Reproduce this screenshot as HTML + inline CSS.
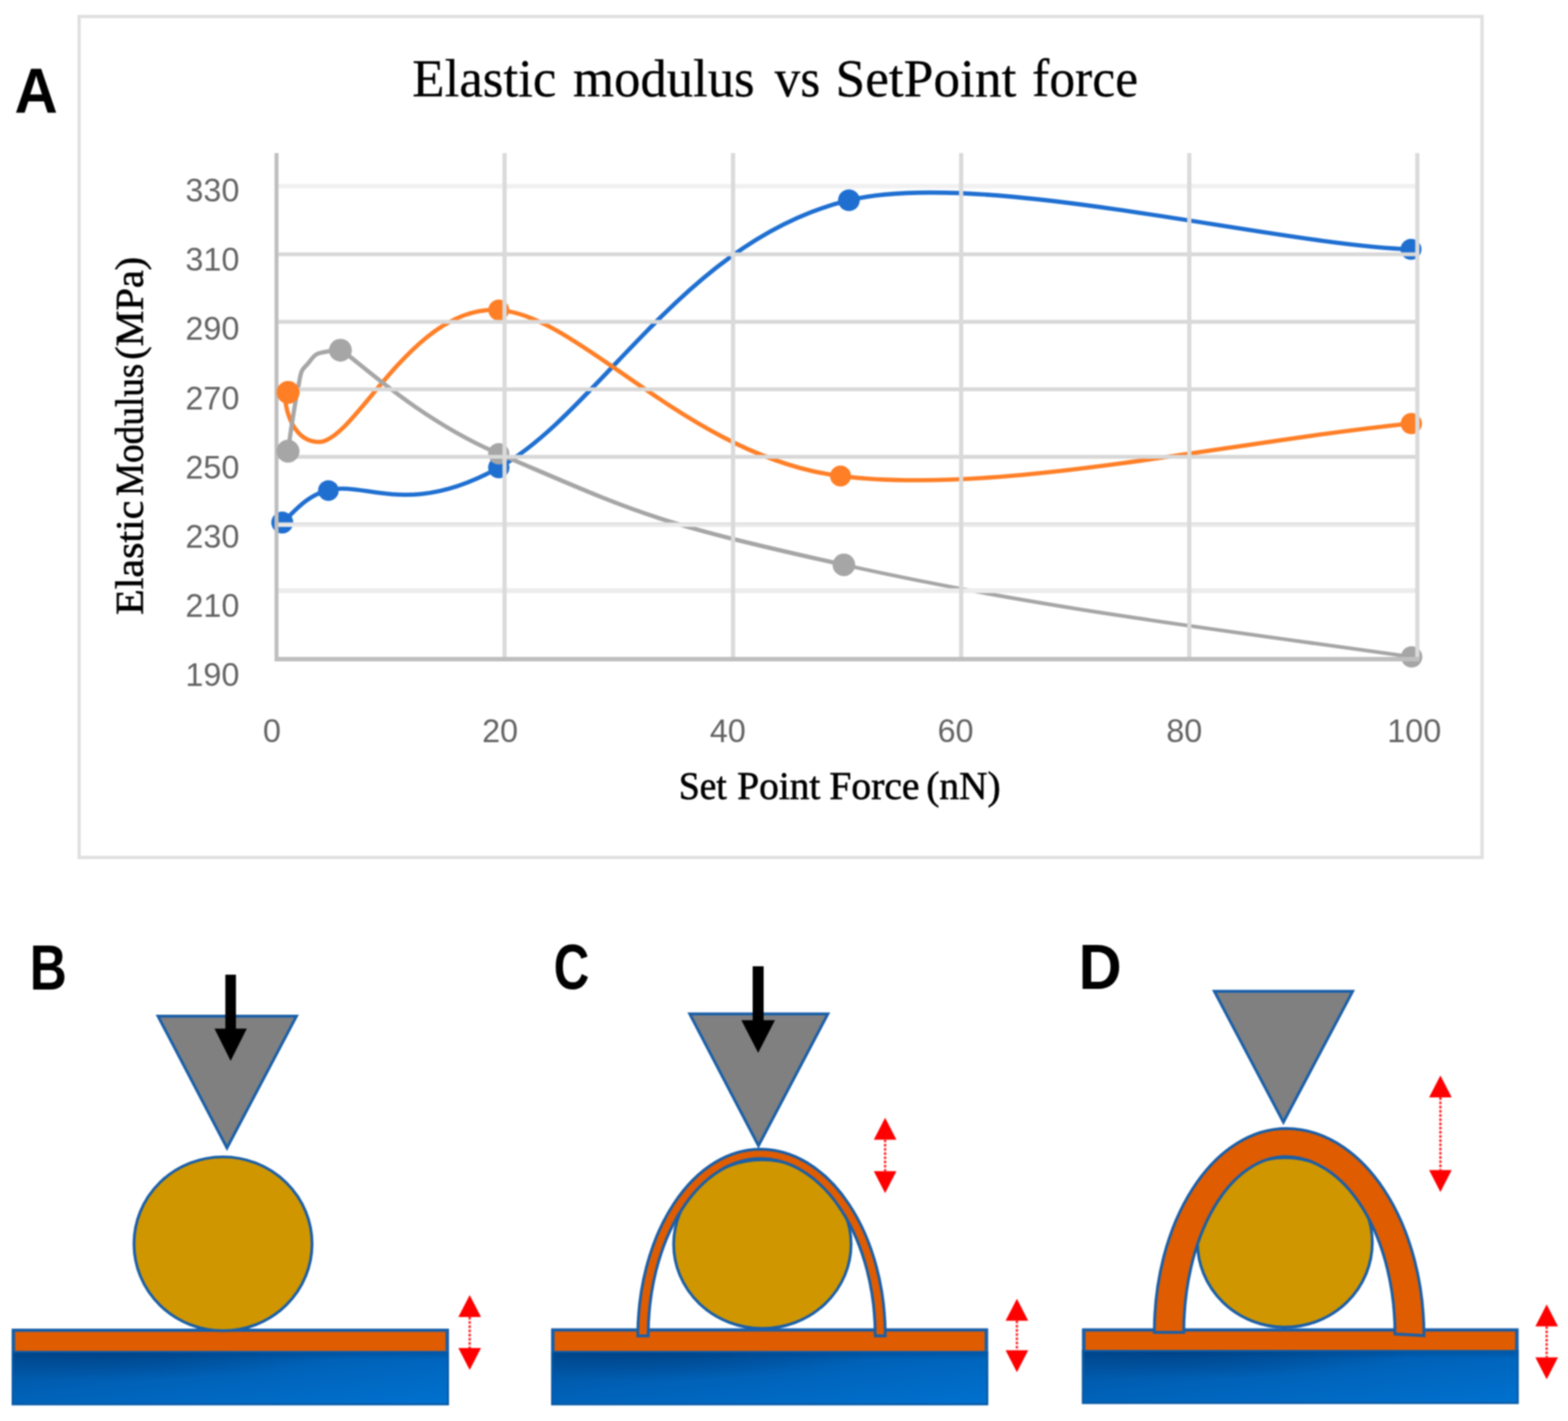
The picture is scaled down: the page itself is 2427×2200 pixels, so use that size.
<!DOCTYPE html>
<html lang="en"><head><meta charset="utf-8"><title>Elastic modulus vs SetPoint force</title>
<style>
html,body{margin:0;padding:0;background:#fff;}
body{width:2427px;height:2200px;overflow:hidden;}
svg{display:block;}
.sans{font-family:"Liberation Sans",sans-serif;}
.serif{font-family:"Liberation Serif",serif;}
.lbl{font-family:"Liberation Sans",sans-serif;font-weight:bold;font-size:98.5px;fill:#000;}
.tick{font-family:"Liberation Sans",sans-serif;font-size:50px;fill:#646464;}
</style></head><body>
<svg width="2427" height="2200" viewBox="0 0 2427 2200">
<defs>
<linearGradient id="sub" gradientUnits="objectBoundingBox" x1="0" y1="0" x2="1" y2="1"><stop offset="0" stop-color="#00509c"/><stop offset="0.45" stop-color="#0062b8"/><stop offset="1" stop-color="#0072d0"/></linearGradient>
<linearGradient id="subtop" x1="0" y1="0" x2="0" y2="1"><stop offset="0" stop-color="#003f7f" stop-opacity="0.45"/><stop offset="1" stop-color="#003f7f" stop-opacity="0"/></linearGradient>
<radialGradient id="subdark" cx="0.22" cy="0" r="0.55"><stop offset="0" stop-color="#003a78" stop-opacity="0.6"/><stop offset="1" stop-color="#003a78" stop-opacity="0"/></radialGradient>
<filter id="soft" x="0" y="0" width="100%" height="100%" filterUnits="userSpaceOnUse" color-interpolation-filters="sRGB"><feGaussianBlur stdDeviation="1.1"/></filter>
</defs>
<rect width="2427" height="2200" fill="#fff"/>
<g filter="url(#soft)">
<rect width="2427" height="2200" fill="#fff"/>
<!-- chart frame -->
<rect x="122.5" y="25.5" width="2171.5" height="1302" fill="#fff" stroke="#dfdfdf" stroke-width="5"/>
<!-- series -->
<path d="M437.5 809 C456.8 790.7 474.1 767.6 508 759 C565.9 744.3 631.5 802.2 772 724 C928.3 636.9 1060.6 370.7 1314 310 C1520.6 260.5 1973.4 379.5 2184 386" fill="none" stroke="#1f6fd1" stroke-width="6.6" stroke-linecap="round" stroke-linejoin="round"/>
<path d="M446 607.5 C436 590 439 684.2 493.5 684.2 C550 684.2 637.1 471.2 772 480 C899.2 488.3 1065 707.6 1301 737 C1546.9 767.6 1895.2 684.5 2184.5 655.8" fill="none" stroke="#ff7f27" stroke-width="6.6" stroke-linecap="round" stroke-linejoin="round"/>
<path d="M445.7 699.5 C446.4 694.2 448.4 679.5 450.1 667.8 C451.8 656.1 454.1 641.4 456.1 629.5 C458.1 617.6 460.3 605.7 462.1 596.6 C463.9 587.5 464.6 580.4 467.1 574.7 C469.6 569.1 473.1 567.1 476.9 562.7 C480.7 558.3 484.4 551.7 490.0 548.5 C495.6 545.3 504.7 544.6 510.8 543.5 C516.9 542.4 524.1 542.2 526.7 541.9 C537.6 543.1 639.1 645.9 772 702.5 C986.6 793.9 1002.9 807 1306.2 874.5" fill="none" stroke="#a6a6a6" stroke-width="6.6" stroke-linecap="round" stroke-linejoin="round"/>
<path d="M1306.2 874.5 C1608.3 941.7 1870.5 972.4 2185 1017" fill="none" stroke="#a6a6a6" stroke-width="5.8" stroke-linecap="round"/>
<circle cx="436.9" cy="809.1" r="17" fill="#1f6fd1"/>
<circle cx="508.3" cy="759.4" r="16" fill="#1f6fd1"/>
<circle cx="772.0" cy="724.0" r="16.5" fill="#1f6fd1"/>
<circle cx="1314.0" cy="310.0" r="16.8" fill="#1f6fd1"/>
<circle cx="2184.0" cy="386.0" r="16.2" fill="#1f6fd1"/>
<circle cx="772.0" cy="480.0" r="16.2" fill="#ff7f27"/>
<circle cx="1301.0" cy="737.0" r="16.2" fill="#ff7f27"/>
<circle cx="2184.5" cy="655.8" r="16.5" fill="#ff7f27"/>
<circle cx="526.9" cy="542.2" r="17.5" fill="#a6a6a6"/>
<circle cx="772.0" cy="702.5" r="16.5" fill="#a6a6a6"/>
<circle cx="1306.2" cy="874.5" r="17.5" fill="#a6a6a6"/>
<circle cx="2185.0" cy="1017.0" r="16.5" fill="#a6a6a6"/>
<!-- gridlines -->
<line x1="427.5" y1="288.3" x2="2196.8" y2="288.3" stroke="#f1f1f1" stroke-width="7"/>
<line x1="427.5" y1="393.8" x2="2196.8" y2="393.8" stroke="#d8d8d8" stroke-width="6"/>
<line x1="427.5" y1="498.3" x2="2196.8" y2="498.3" stroke="#d8d8d8" stroke-width="6"/>
<line x1="427.5" y1="602.7" x2="2196.8" y2="602.7" stroke="#d8d8d8" stroke-width="6"/>
<line x1="427.5" y1="707.3" x2="2196.8" y2="707.3" stroke="#d8d8d8" stroke-width="6"/>
<line x1="427.5" y1="812.3" x2="2196.8" y2="812.3" stroke="#eaeaea" stroke-width="7"/>
<line x1="427.5" y1="914.5" x2="2196.8" y2="914.5" stroke="#ececec" stroke-width="7.5"/>
<line x1="427.5" y1="810" x2="2196.8" y2="810" stroke="#dcdcdc" stroke-width="2"/>
<line x1="781.0" y1="237.0" x2="781.0" y2="1021.0" stroke="#dadada" stroke-width="6.5"/>
<line x1="1134.6" y1="237.0" x2="1134.6" y2="1021.0" stroke="#dadada" stroke-width="6.5"/>
<line x1="1487.7" y1="237.0" x2="1487.7" y2="1021.0" stroke="#dadada" stroke-width="6.5"/>
<line x1="1840.8" y1="237.0" x2="1840.8" y2="1021.0" stroke="#dadada" stroke-width="6.5"/>
<line x1="2193.8" y1="237.0" x2="2193.8" y2="1021.0" stroke="#dadada" stroke-width="6.5"/>
<line x1="428.0" y1="237.0" x2="428.0" y2="1024.0" stroke="#bfbfbf" stroke-width="6.2"/>
<line x1="425.0" y1="1020.5" x2="2196.8" y2="1020.5" stroke="#bfbfbf" stroke-width="6.8"/>
<circle cx="446" cy="607.5" r="17.8" fill="#ff7f27"/>
<circle cx="526.9" cy="542.2" r="17.5" fill="#a6a6a6"/>
<circle cx="445.8" cy="698.5" r="17.8" fill="#a6a6a6"/>
<!-- text -->
<text class="lbl" transform="translate(22.6,174.0) scale(0.940,1)">A</text>
<text class="serif" y="149.2" font-size="81.5" fill="#000" stroke="#000" stroke-width="0.4"><tspan x="638.1" textLength="223.0" lengthAdjust="spacingAndGlyphs">Elastic</tspan> <tspan x="887.0" textLength="281.0" lengthAdjust="spacingAndGlyphs">modulus</tspan> <tspan x="1199.0" textLength="70.5" lengthAdjust="spacingAndGlyphs">vs</tspan> <tspan x="1293.2" textLength="280.0" lengthAdjust="spacingAndGlyphs">SetPoint</tspan> <tspan x="1597.6" textLength="164.0" lengthAdjust="spacingAndGlyphs">force</tspan></text>
<text class="tick" x="370.5" y="312.0" text-anchor="end">330</text>
<text class="tick" x="370.5" y="419.2" text-anchor="end">310</text>
<text class="tick" x="370.5" y="526.4" text-anchor="end">290</text>
<text class="tick" x="370.5" y="633.6" text-anchor="end">270</text>
<text class="tick" x="370.5" y="740.8" text-anchor="end">250</text>
<text class="tick" x="370.5" y="848.0" text-anchor="end">230</text>
<text class="tick" x="370.5" y="955.2" text-anchor="end">210</text>
<text class="tick" x="370.5" y="1062.4" text-anchor="end">190</text>
<text class="tick" x="421.0" y="1149" text-anchor="middle">0</text>
<text class="tick" x="774.0" y="1149" text-anchor="middle">20</text>
<text class="tick" x="1126.5" y="1149" text-anchor="middle">40</text>
<text class="tick" x="1479.0" y="1149" text-anchor="middle">60</text>
<text class="tick" x="1833.0" y="1149" text-anchor="middle">80</text>
<text class="tick" x="2189.0" y="1149" text-anchor="middle">100</text>
<text class="serif" y="1236.5" font-size="61" fill="#000" stroke="#000" stroke-width="0.9"><tspan x="1050.7" textLength="74.3" lengthAdjust="spacingAndGlyphs">Set</tspan> <tspan x="1141.0" textLength="128.8" lengthAdjust="spacingAndGlyphs">Point</tspan> <tspan x="1283.7" textLength="139.5" lengthAdjust="spacingAndGlyphs">Force</tspan> <tspan x="1433.7" textLength="115.0" lengthAdjust="spacingAndGlyphs">(nN)</tspan></text>
<text class="serif" transform="translate(221,951) rotate(-90)" y="0" font-size="61" fill="#000" stroke="#000" stroke-width="0.9"><tspan x="-1.0" textLength="177.0" lengthAdjust="spacingAndGlyphs">Elastic</tspan> <tspan x="183.0" textLength="205.0" lengthAdjust="spacingAndGlyphs">Modulus</tspan> <tspan x="394.0" textLength="159.4" lengthAdjust="spacingAndGlyphs">(MPa)</tspan></text>
<!-- panel B -->
<text class="lbl" transform="translate(45.9,1531.5) scale(0.807,1)">B</text>
<rect x="18.0" y="2091.4" width="677.0" height="84.1" fill="url(#sub)"/>
<rect x="18.0" y="2091.4" width="677.0" height="14.0" fill="url(#subtop)"/>
<rect x="18.0" y="2091.4" width="677.0" height="84.1" fill="url(#subdark)"/>
<rect x="19.5" y="2092.9" width="674.0" height="81.1" fill="none" stroke="#0b5aa6" stroke-width="3"/>
<rect x="18.0" y="2057.0" width="677.0" height="34.4" fill="#1a5fa8"/>
<rect x="23.5" y="2062.0" width="666.0" height="29.4" fill="#e05c00"/>
<ellipse cx="345.2" cy="1925.7" rx="137.8" ry="134.6" fill="#d09600" stroke="#1a5fa8" stroke-width="4.4"/>
<polygon points="244.6,1573.2 458.9,1573.2 351.3,1777.3" fill="#808080" stroke="#1a5fa8" stroke-width="4.4" stroke-linejoin="miter"/>
<path d="M348.8 1509.0 H365.2 V1592.5 H382.0 L357.0 1642.5 L332.0 1592.5 H348.8 Z" fill="#000"/>
<polygon points="727.0,2005.0 744.5,2039.0 709.5,2039.0" fill="#ff0000"/>
<polygon points="727.0,2121.0 744.5,2087.0 709.5,2087.0" fill="#ff0000"/>
<line x1="727.0" y1="2039.0" x2="727.0" y2="2087.0" stroke="#ff0000" stroke-width="3.6" stroke-dasharray="4 2.5" stroke-opacity="0.85"/>
<!-- panel C -->
<text class="lbl" transform="translate(857.1,1530.7) scale(0.775,1)">C</text>
<rect x="853.0" y="2091.4" width="676.5" height="84.1" fill="url(#sub)"/>
<rect x="853.0" y="2091.4" width="676.5" height="14.0" fill="url(#subtop)"/>
<rect x="853.0" y="2091.4" width="676.5" height="84.1" fill="url(#subdark)"/>
<rect x="854.5" y="2092.9" width="673.5" height="81.1" fill="none" stroke="#0b5aa6" stroke-width="3"/>
<rect x="853.0" y="2056.5" width="676.5" height="34.9" fill="#1a5fa8"/>
<rect x="858.5" y="2061.5" width="665.5" height="29.9" fill="#e05c00"/>
<ellipse cx="1180.0" cy="1926.2" rx="137.3" ry="130.6" fill="#d09600" stroke="#1a5fa8" stroke-width="4.4"/>
<path d="M987.2 2068.3 A189.8 289.1 0 0 1 1177.0 1779.2 A193.3 289.1 0 0 1 1370.3 2068.3 L1354.7 2068.3 A177.7 274.5 0 0 0 1177.0 1793.8 A173.7 274.5 0 0 0 1003.3 2068.3 Z" fill="#e05c00" stroke="#1a5fa8" stroke-width="4.4" stroke-linejoin="miter"/>
<polygon points="1067.6,1569.7 1281.4,1569.7 1174.0,1773.8" fill="#808080" stroke="#1a5fa8" stroke-width="4.4" stroke-linejoin="miter"/>
<path d="M1165.0 1496.0 H1182.0 V1579.5 H1199.5 L1173.5 1630.0 L1147.5 1579.5 H1165.0 Z" fill="#000"/>
<polygon points="1370.0,1730.5 1387.5,1764.5 1352.5,1764.5" fill="#ff0000"/>
<polygon points="1370.0,1847.2 1387.5,1813.2 1352.5,1813.2" fill="#ff0000"/>
<line x1="1370.0" y1="1764.5" x2="1370.0" y2="1813.2" stroke="#ff0000" stroke-width="3.6" stroke-dasharray="4 2.5" stroke-opacity="0.85"/>
<polygon points="1574.0,2010.8 1591.5,2044.8 1556.5,2044.8" fill="#ff0000"/>
<polygon points="1574.0,2124.6 1591.5,2090.6 1556.5,2090.6" fill="#ff0000"/>
<line x1="1574.0" y1="2044.8" x2="1574.0" y2="2090.6" stroke="#ff0000" stroke-width="3.6" stroke-dasharray="4 2.5" stroke-opacity="0.85"/>
<!-- panel D -->
<text class="lbl" transform="translate(1669.4,1531.0) scale(0.937,1)">D</text>
<rect x="1674.7" y="2090.0" width="675.9" height="83.5" fill="url(#sub)"/>
<rect x="1674.7" y="2090.0" width="675.9" height="14.0" fill="url(#subtop)"/>
<rect x="1674.7" y="2090.0" width="675.9" height="83.5" fill="url(#subdark)"/>
<rect x="1676.2" y="2091.5" width="672.9" height="80.5" fill="none" stroke="#0b5aa6" stroke-width="3"/>
<rect x="1674.7" y="2056.5" width="675.9" height="33.5" fill="#1a5fa8"/>
<rect x="1680.2" y="2061.5" width="664.9" height="28.5" fill="#e05c00"/>
<ellipse cx="1988.8" cy="1923.6" rx="135.3" ry="131.2" fill="#d09600" stroke="#1a5fa8" stroke-width="4.4"/>
<path d="M1786.7 2062.8 A204.3 315.6 0 0 1 1991.0 1747.2 A213.1 320.6 0 0 1 2204.1 2067.8 L2159.2 2065.3 A169.2 274.5 0 0 0 1990.0 1790.8 A157.7 272.0 0 0 0 1832.3 2062.8 Z" fill="#e05c00" stroke="#1a5fa8" stroke-width="4.4" stroke-linejoin="miter"/>
<polygon points="1879.6,1534.7 2093.7,1534.7 1986.5,1737.3" fill="#808080" stroke="#1a5fa8" stroke-width="4.4" stroke-linejoin="miter"/>
<polygon points="2229.5,1665.0 2247.0,1699.0 2212.0,1699.0" fill="#ff0000"/>
<polygon points="2229.5,1845.5 2247.0,1811.5 2212.0,1811.5" fill="#ff0000"/>
<line x1="2229.5" y1="1699.0" x2="2229.5" y2="1811.5" stroke="#ff0000" stroke-width="3.6" stroke-dasharray="4 2.5" stroke-opacity="0.85"/>
<polygon points="2394.0,2019.6 2411.5,2053.6 2376.5,2053.6" fill="#ff0000"/>
<polygon points="2394.0,2135.6 2411.5,2101.6 2376.5,2101.6" fill="#ff0000"/>
<line x1="2394.0" y1="2053.6" x2="2394.0" y2="2101.6" stroke="#ff0000" stroke-width="3.6" stroke-dasharray="4 2.5" stroke-opacity="0.85"/>
</g>
</svg>
</body></html>
